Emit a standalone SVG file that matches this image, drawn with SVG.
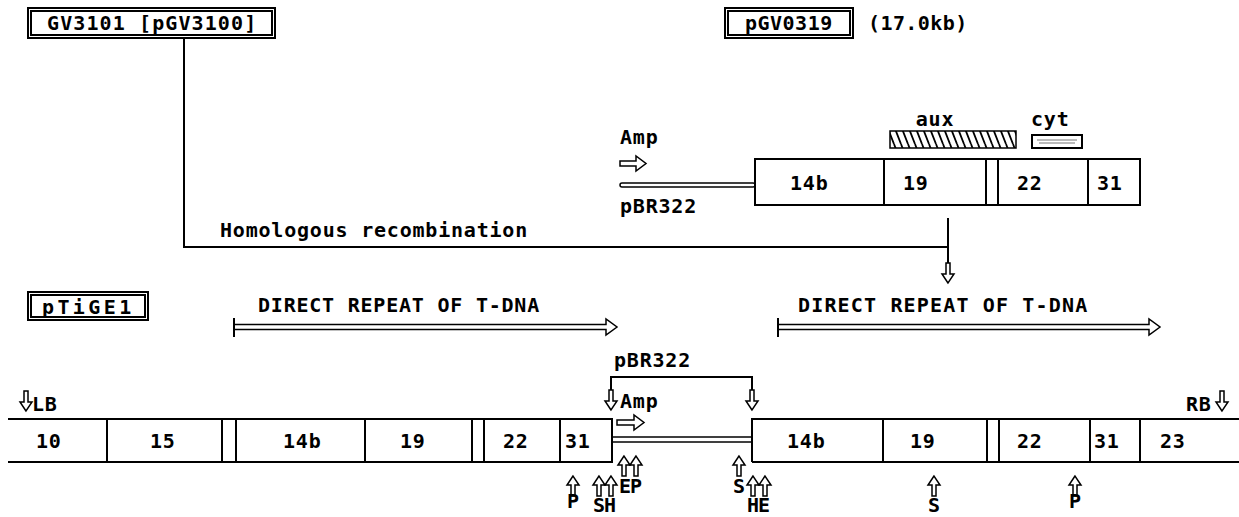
<svg xmlns="http://www.w3.org/2000/svg" width="1239" height="517" viewBox="0 0 1239 517">
<style>
.t{font-family:"DejaVu Sans Mono","Liberation Mono",monospace;font-weight:bold;font-size:20px;letter-spacing:0.8px;fill:#000}
.s{font-family:"DejaVu Sans Mono","Liberation Mono",monospace;font-weight:bold;font-size:20px;fill:#000}
.ln{fill:none;stroke:#000;stroke-width:2}
.bx{fill:#fff;stroke:#000;stroke-width:2}
.ha{fill:#fff;stroke:#000;stroke-width:1.5;stroke-linejoin:miter}
</style>
<defs>
<path id="dn" class="ha" d="M0,0 L-6,-9 L-2,-9 L-2,-20 L2,-20 L2,-9 L6,-9 Z"/>
<path id="up" class="ha" d="M0,0 L-6,9 L-2,9 L-2,20 L2,20 L2,9 L6,9 Z"/>
<pattern id="hatch" width="7" height="18" patternUnits="userSpaceOnUse">
<path d="M-2,0 L5,18 M5,0 L12,18" stroke="#000" stroke-width="1.8"/>
</pattern>
</defs>

<g id="connectors">
<path class="ln" d="M184,38 V247 H948"/>
<path class="ln" d="M948,218 V272"/>
<use href="#dn" x="948" y="283"/>
<path class="ln" d="M611,400 V377 H752 V400"/>
<use href="#dn" x="611" y="410"/>
<use href="#dn" x="752" y="410"/>
</g>

<g id="node-gv3101">
<rect class="bx" x="28" y="8" width="247" height="30"/>
<rect class="ln" x="31" y="11" width="241" height="24" stroke-width="1"/>
<text class="t" x="47" y="30" textLength="210">GV3101 [pGV3100]</text>
</g>

<g id="node-pgv0319">
<rect class="bx" x="725" y="8" width="128" height="30"/>
<rect class="ln" x="728" y="11" width="122" height="24" stroke-width="1"/>
<text class="t" x="745" y="30" textLength="88">pGV0319</text>
<text class="t" x="868" y="30" textLength="100">(17.0kb)</text>
</g>

<g id="node-top-construct">
<text class="t" x="620" y="144">Amp</text>
<path class="ha" d="M620,161 H636 V156 L646,163.5 L636,171 V166 H620 Z"/>
<rect class="ha" x="620" y="183" width="135" height="4" rx="2"/>
<text class="t" x="620" y="213">pBR322</text>
<text class="t" x="935" y="126" text-anchor="middle">aux</text>
<rect x="890" y="131" width="126" height="17" style="fill:url(#hatch);stroke:#000;stroke-width:1.5"/>
<text class="t" x="1031" y="126">cyt</text>
<rect class="bx" x="1032" y="135" width="50" height="13" stroke-width="1.5"/>
<path d="M1037,140 H1077 M1039,143 H1075" stroke="#777" stroke-width="1"/>
<rect class="bx" x="755" y="159" width="385" height="46"/>
<path class="ln" d="M884,159 V205 M986,159 V205 M998,159 V205 M1088,159 V205"/>
<text class="t" x="790" y="190">14b</text>
<text class="t" x="903" y="190">19</text>
<text class="t" x="1017" y="190">22</text>
<text class="t" x="1097" y="190">31</text>
</g>

<g id="node-homologous">
<text class="t" x="220" y="237" textLength="308">Homologous recombination</text>
</g>

<g id="node-ptige1">
<rect class="bx" x="28" y="292" width="120" height="28"/>
<rect class="ln" x="31" y="295" width="114" height="22" stroke-width="1"/>
<text class="t" x="42" y="314" textLength="90">pTiGE1</text>
</g>

<g id="node-repeat-left">
<text class="t" x="258" y="312" textLength="282">DIRECT REPEAT OF T-DNA</text>
<path class="ha" d="M234,324.5 H606 V319 L617,327 L606,335 V329.5 H234 Z"/>
<path class="ln" d="M234,318 V337" stroke-width="2.5"/>
</g>

<g id="node-repeat-right">
<text class="t" x="798" y="312" textLength="290">DIRECT REPEAT OF T-DNA</text>
<path class="ha" d="M778,324.5 H1149 V319 L1160,327 L1149,335 V329.5 H778 Z"/>
<path class="ln" d="M778,318 V337" stroke-width="2.5"/>
</g>

<g id="node-lower-pbr322">
<text class="t" x="614" y="367">pBR322</text>
<text class="t" x="620" y="408">Amp</text>
<path class="ha" d="M617,420 H634 V415 L644,422.5 L634,430 V425 H617 Z"/>
<rect class="ha" x="612" y="437" width="140" height="5"/>
</g>

<g id="node-lower-bar">
<path class="ln" d="M8,419 H612 V462 H8 M752,462 V419 H1239 M752,462 H1239"/>
<path class="ln" d="M107,419 V462 M222,419 V462 M236,419 V462 M365,419 V462 M472,419 V462 M484,419 V462 M560,419 V462 M883,419 V462 M987,419 V462 M999,419 V462 M1090,419 V462 M1140,419 V462"/>
<text class="t" x="36" y="448">10</text>
<text class="t" x="150" y="448">15</text>
<text class="t" x="283" y="448">14b</text>
<text class="t" x="400" y="448">19</text>
<text class="t" x="503" y="448">22</text>
<text class="t" x="565" y="448">31</text>
<text class="t" x="787" y="448">14b</text>
<text class="t" x="910" y="448">19</text>
<text class="t" x="1017" y="448">22</text>
<text class="t" x="1094" y="448">31</text>
<text class="t" x="1160" y="448">23</text>
</g>

<g id="node-lb">
<use href="#dn" x="26" y="411"/>
<text class="t" x="32" y="411" letter-spacing="0">LB</text>
</g>
<g id="node-rb">
<text class="t" x="1186" y="411" letter-spacing="0">RB</text>
<use href="#dn" x="1222" y="411"/>
</g>

<g id="node-sites">
<use href="#up" x="573" y="476"/>
<text class="s" x="573" y="508" text-anchor="middle">P</text>
<use href="#up" x="599" y="476"/>
<use href="#up" x="611" y="476"/>
<text class="s" x="593" y="512" letter-spacing="-1">SH</text>
<use href="#up" x="624" y="456"/>
<use href="#up" x="636" y="456"/>
<text class="s" x="619" y="493" letter-spacing="-1">EP</text>
<use href="#up" x="739" y="456"/>
<text class="s" x="739" y="493" text-anchor="middle">S</text>
<use href="#up" x="753" y="476"/>
<use href="#up" x="765" y="476"/>
<text class="s" x="747" y="512" letter-spacing="-1">HE</text>
<use href="#up" x="934" y="476"/>
<text class="s" x="934" y="512" text-anchor="middle">S</text>
<use href="#up" x="1075" y="476"/>
<text class="s" x="1075" y="508" text-anchor="middle">P</text>
</g>
</svg>
